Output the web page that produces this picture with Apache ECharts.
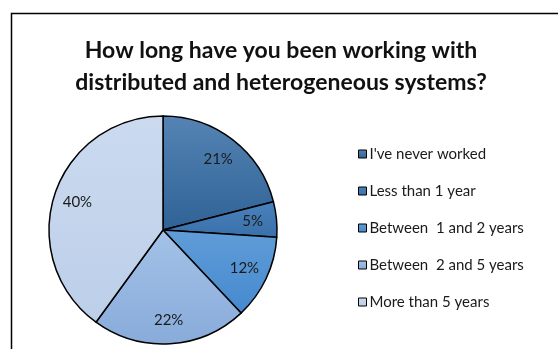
<!DOCTYPE html>
<html>
<head>
<meta charset="utf-8">
<script src="https://cdn.jsdelivr.net/npm/echarts@6/dist/echarts.min.js"></script>
<style>
  html, body { margin: 0; padding: 0; background: #fff; }
  #chart { width: 558px; height: 349px; }
</style>
</head>
<body>
<div id="chart"></div>
<script>
// Survey answers: experience with distributed and heterogeneous systems
const categories = [
  "I've never worked",
  "Less than 1 year",
  "Between  1 and 2 years",
  "Between  2 and 5 years",
  "More than 5 years"
];
const shares = [21, 5, 12, 22, 40];
// top / bottom colours of each slice's vertical gradient
const sliceTop = ['#5584b4', '#4a82bd', '#609dd8', '#a4c2e8', '#cbdaef'];
const sliceBottom = ['#2f6296', '#3a70aa', '#4689cf', '#88abda', '#bccfe9'];

const chart = echarts.init(document.getElementById('chart'), null, { renderer: 'canvas' });

const grad = (i) => new echarts.graphic.LinearGradient(0, 0, 0, 1, [
  { offset: 0, color: sliceTop[i] },
  { offset: 1, color: sliceBottom[i] }
]);

const pieData = categories.map((name, i) => ({
  name: name,
  value: shares[i],
  itemStyle: { color: grad(i) }
}));

const center = [163, 230];

chart.setOption({
  animation: false,
  backgroundColor: '#ffffff',
  title: {
    text: 'How long have you been working with\ndistributed and heterogeneous systems?',
    left: 276,
    textAlign: 'center',
    top: 30,
    textStyle: {
      fontFamily: 'Lato',
      fontWeight: 'bold',
      fontSize: 23,
      lineHeight: 32,
      color: '#111'
    }
  },
  legend: {
    orient: 'vertical',
    left: 353,
    top: 141,
    itemWidth: 8,
    itemHeight: 8,
    itemGap: 21,
    icon: 'rect',
    data: categories,
    itemStyle: { borderColor: '#000', borderWidth: 1 },
    textStyle: {
      fontFamily: 'Lato',
      fontSize: 15,
      lineHeight: 16,
      color: '#1a1a1a',
      padding: [0, 0, 0, -2]
    },
    selectedMode: false
  },
  graphic: [{
    type: 'rect',
    z: -10,
    silent: true,
    shape: { x: 11.5, y: 13.5, width: 700, height: 500 },
    style: { fill: 'none', stroke: '#000', lineWidth: 1.5 }
  }],
  series: [
    {
      type: 'pie',
      center: center,
      radius: [0, 114],
      startAngle: 90,
      clockwise: true,
      silent: true,
      label: { show: false },
      labelLine: { show: false },
      itemStyle: { borderColor: '#000', borderWidth: 1.5 },
      data: pieData
    },
    {
      // transparent ring that only carries the percentage labels
      type: 'pie',
      center: center,
      radius: [60, 114],
      startAngle: 90,
      clockwise: true,
      silent: true,
      itemStyle: { color: 'rgba(0,0,0,0)', borderWidth: 0 },
      label: {
        show: true,
        position: 'inside',
        formatter: '{c}%',
        fontFamily: 'Lato',
        fontSize: 15,
        color: '#1a1a1a'
      },
      labelLine: { show: false },
      data: categories.map((name, i) => ({ name: name, value: shares[i] }))
    }
  ]
});
</script>
</body>
</html>
